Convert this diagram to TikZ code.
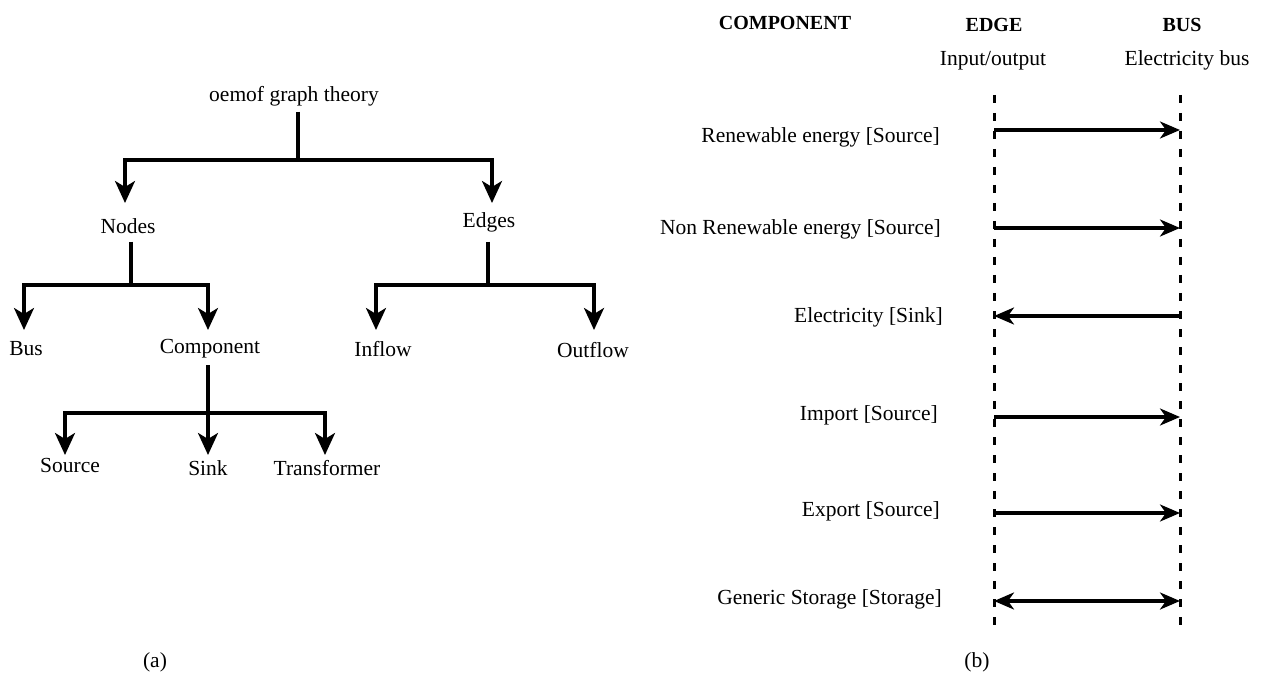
\documentclass[tikz,border=0pt]{standalone}
\usepackage{fontspec}
\setmainfont{Liberation Serif}
\usetikzlibrary{arrows.meta}
\begin{document}
\begin{tikzpicture}[x=1pt,y=-1pt,
  txt/.style={font=\fontsize{21.5}{26}\selectfont, inner sep=0pt, anchor=base},
  hdr/.style={font=\fontsize{20}{24}\selectfont\bfseries, inner sep=0pt, anchor=base},
  lbl/.style={txt, anchor=base east},
  tree/.style={line width=3.3pt, -{Stealth[length=22pt,width=20pt,inset=6pt]}},
  flow/.style={line width=3.3pt, -{Stealth[length=20pt,width=17pt,inset=6pt]}},
  bothflow/.style={line width=3.3pt, {Stealth[length=20pt,width=17pt,inset=6pt]}-{Stealth[length=20pt,width=17pt,inset=6pt]}},
  life/.style={line width=3pt, dash pattern=on 8pt off 10pt}]
\useasboundingbox (0,0) rectangle (1267,695);

% ---------- (a) tree ----------
\node[txt] (root) at (294,102) {oemof graph theory};
\node[txt] (nodes) at (128,234) {Nodes};
\node[txt] (edges) at (489,228) {Edges};
\node[txt] (bus) at (26,355) {Bus};
\node[txt] (comp) at (210,353) {Component};
\node[txt] (inflow) at (383,356) {Inflow};
\node[txt] (outflow) at (593,357) {Outflow};
\node[txt] (source) at (70,472) {Source};
\node[txt] (sink) at (208,475) {Sink};
\node[txt] (trans) at (327,475) {Transformer};
\node[txt] (capa) at (155,667) {(a)};

\draw[tree] ([xshift=4pt,yshift=-10pt]root.base) -- ++(0,48) -| ([xshift=-3pt,yshift=31pt]nodes.base);
\draw[tree] ([xshift=4pt,yshift=-10pt]root.base) -- ++(0,48) -| ([xshift=3pt,yshift=25pt]edges.base);

\draw[tree] ([xshift=3pt,yshift=-8pt]nodes.base) -- ++(0,43) -| ([xshift=-2pt,yshift=25pt]bus.base);
\draw[tree] ([xshift=3pt,yshift=-8pt]nodes.base) -- ++(0,43) -| ([xshift=-2pt,yshift=23pt]comp.base);

\draw[tree] ([xshift=-1pt,yshift=-14pt]edges.base) -- ++(0,43) -| ([xshift=-7pt,yshift=26pt]inflow.base);
\draw[tree] ([xshift=-1pt,yshift=-14pt]edges.base) -- ++(0,43) -| ([xshift=1pt,yshift=27pt]outflow.base);

\draw[tree] ([xshift=-2pt,yshift=-12pt]comp.base) -- ++(0,48) -| ([xshift=-5pt,yshift=17pt]source.base);
\draw[tree] ([xshift=-2pt,yshift=-12pt]comp.base) -- ++(0,48) -| ([yshift=20pt]sink.base);
\draw[tree] ([xshift=-2pt,yshift=-12pt]comp.base) -- ++(0,48) -| ([xshift=-2pt,yshift=20pt]trans.base);

% ---------- (b) ----------
\node[hdr] (hcomp) at (785,30) {COMPONENT};
\node[hdr] (hedge) at (994,32) {EDGE};
\node[hdr] (hbus) at (1182,32) {BUS};
\node[txt] (io) at (993,66) {Input/output};
\node[txt] (ebus) at (1187,66) {Electricity bus};
\node[txt] (capb) at (977,667) {(b)};

\coordinate (etop) at (994,95);
\coordinate (ebot) at (994,625);
\coordinate (btop) at (1180,95);
\coordinate (bbot) at (1180,625);
\draw[life] (etop) -- (ebot);
\draw[life] (btop) -- (bbot);

\node[lbl] (l1) at (940,143) {Renewable energy [Source]};
\node[lbl] (l2) at (941,235) {Non Renewable energy [Source]};
\node[lbl] (l3) at (943,323) {Electricity [Sink]};
\node[lbl] (l4) at (938,420) {Import [Source]};
\node[lbl] (l5) at (940,516) {Export [Source]};
\node[lbl] (l6) at (942,604) {Generic Storage [Storage]};

\coordinate (e1) at (994,130); \coordinate (b1) at (1180,130);
\coordinate (e2) at (994,228); \coordinate (b2) at (1180,228);
\coordinate (e3) at (994,316); \coordinate (b3) at (1180,316);
\coordinate (e4) at (994,417); \coordinate (b4) at (1180,417);
\coordinate (e5) at (994,513); \coordinate (b5) at (1180,513);
\coordinate (e6) at (994,601); \coordinate (b6) at (1180,601);

\draw[flow] (e1) -- (b1);
\draw[flow] (e2) -- (b2);
\draw[flow] (b3) -- (e3);
\draw[flow] (e4) -- (b4);
\draw[flow] (e5) -- (b5);
\draw[bothflow] (e6) -- (b6);
\end{tikzpicture}
\end{document}
